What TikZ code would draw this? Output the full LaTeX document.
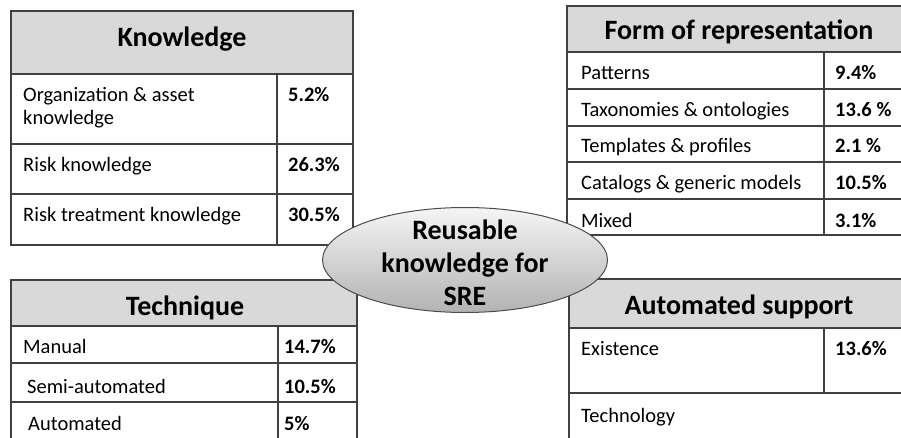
\documentclass[tikz,border=0pt]{standalone}
\usepackage{fontspec}
\setmainfont{Carlito}
\usetikzlibrary{shapes.geometric}
\begin{document}
\begin{tikzpicture}[x=1pt,y=-1pt,
    grid/.style={draw=black!75,line width=1.2pt},
    head/.style={grid,fill=black!15},
    cell/.style={anchor=base west,inner sep=0pt,align=left,font=\fontsize{20.5}{23}\selectfont},
    val/.style={cell,font=\fontsize{20.5}{23}\selectfont\bfseries},
    title/.style={anchor=base,inner sep=0pt,font=\fontsize{28}{32}\selectfont\bfseries},
    hub/.style={ellipse,draw=black!70,line width=1pt,top color=black!4,bottom color=black!30,
      minimum width=285pt,minimum height=105pt,inner sep=0pt}]
  \useasboundingbox (0,0) rectangle (901,438);
  \clip (0,0) rectangle (901,438);
  % knowledge
  \draw[head] (11,11) rectangle (353,74);
  \draw[grid] (11,74) rectangle (353,245);
  \draw[grid] (11,144) -- (353,144) (11,194) -- (353,194) (277,74) -- (277,245);
  \node[title] (know) at (182,47) {Knowledge};
  \node[cell] (k1) at (23,125) {Organization \& asset\\knowledge};
  \node[val] (k1v) at (288,102) {5.2\%};
  \node[cell] (k2) at (23,172) {Risk knowledge};
  \node[val] (k2v) at (288,172) {26.3\%};
  \node[cell] (k3) at (23,222) {Risk treatment knowledge};
  \node[val] (k3v) at (288,222) {30.5\%};
  % form of representation
  \draw[head] (567,6) rectangle (912,52);
  \draw[grid] (567,52) rectangle (912,235);
  \draw[grid] (567,89) -- (912,89) (567,126) -- (912,126) (567,162) -- (912,162)
    (567,199) -- (912,199) (824,52) -- (824,235);
  \node[title] (form) at (739,40) {Form of representation};
  \node[cell] (f1) at (581,80) {Patterns};
  \node[val] (f1v) at (835,80) {9.4\%};
  \node[cell] (f2) at (581,117) {Taxonomies \& ontologies};
  \node[val] (f2v) at (835,117) {13.6 \%};
  \node[cell] (f3) at (581,153) {Templates \& profiles};
  \node[val] (f3v) at (835,153) {2.1 \%};
  \node[cell] (f4) at (581,190) {Catalogs \& generic models};
  \node[val] (f4v) at (835,190) {10.5\%};
  \node[cell] (f5) at (581,227) {Mixed};
  \node[val] (f5v) at (835,227) {3.1\%};
  % technique
  \draw[head] (11,280) rectangle (357,326);
  \draw[grid] (11,450) -- (11,326) -- (357,326) -- (357,450);
  \draw[grid] (11,363) -- (357,363) (11,402) -- (357,402) (278,326) -- (278,450);
  \node[title] (tech) at (185,315) {Technique};
  \node[cell] (t1) at (23,353) {Manual};
  \node[val] (t1v) at (284,353) {14.7\%};
  \node[cell] (t2) at (27,393) {Semi-automated};
  \node[val] (t2v) at (284,393) {10.5\%};
  \node[cell] (t3) at (28,430) {Automated};
  \node[val] (t3v) at (284,430) {5\%};
  % automated support
  \draw[head] (569,279) rectangle (912,328);
  \draw[grid] (569,450) -- (569,328) (569,393) -- (912,393) (824,328) -- (824,393);
  \node[title] (auto) at (739,314) {Automated support};
  \node[cell] (a1) at (581,355) {Existence};
  \node[val] (a1v) at (835,355) {13.6\%};
  \node[cell] (a2) at (581,422) {Technology};
  % centre
  \node[hub] (sre) at (465,260) {};
  \node[anchor=base,align=center,inner sep=0pt,font=\fontsize{28}{33}\selectfont\bfseries] (sretext) at (465,305) {Reusable\\knowledge for\\SRE};
\end{tikzpicture}
\end{document}
